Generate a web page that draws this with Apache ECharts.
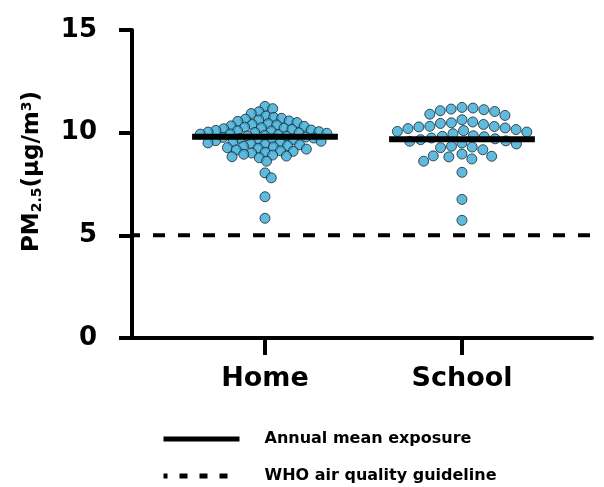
<!DOCTYPE html>
<html>
<head>
<meta charset="utf-8">
<title>PM2.5 exposure</title>
<style>
  body { margin: 0; padding: 0; background: #fff; }
  #container { width: 604px; height: 487px; }
</style>
</head>
<body>
<div id="container"></div>
<script src="https://cdn.jsdelivr.net/npm/echarts@6/dist/echarts.min.js"></script>
<script>
// categories on the x axis (Home = 1, School = 2)
var categories = ['Home', 'School'];
var categoryPos = [1, 2];

// PM2.5 values (ug/m3)
var homeValues = [
  11.28, 11.17, 11.02, 10.93, 10.81,
  10.74, 10.7, 10.66, 10.62, 10.57, 10.55, 10.49, 10.44,
  10.4, 10.38, 10.33, 10.31, 10.27, 10.24, 10.22, 10.19, 10.17, 10.13, 10.11,
  10.09, 10.08, 10.05, 10.03, 10.01, 9.99,
  9.97, 9.94, 9.93, 9.9, 9.87, 9.84, 9.83, 9.79, 9.77, 9.74, 9.72, 9.69,
  9.66, 9.64, 9.61, 9.58,
  9.55, 9.52, 9.5, 9.47, 9.44, 9.41, 9.37, 9.34, 9.31, 9.27, 9.24, 9.2,
  9.16, 9.12, 9.09, 9.05, 9.01, 8.95, 8.91, 8.86, 8.83, 8.78,
  8.61, 8.04, 7.8, 6.88, 5.83
];
var schoolValues = [
  11.23, 11.2, 11.15, 11.12, 11.07, 11.03, 10.9, 10.84,
  10.63, 10.52, 10.48, 10.45, 10.4, 10.31, 10.3, 10.28, 10.23, 10.2,
  10.15, 10.1, 10.06, 10.03, 9.95, 9.85, 9.82, 9.8, 9.74, 9.7,
  9.66, 9.6, 9.58, 9.5, 9.45, 9.34, 9.3, 9.27, 9.17, 8.96, 8.87, 8.85,
  8.82, 8.72, 8.61,
  8.07, 6.75, 5.73
];

// annual means (horizontal bars) and WHO guideline
var meanValues = [9.8, 9.68];
var guideline = 5;

var FONT = 'DejaVu Sans';
var dotColor = '#38a9d4';

var dom = document.getElementById('container');
var myChart = echarts.init(dom);

var xMin = 0.325, xMax = 2.66;

// one legend block per row, so the rows sit where the picture has them
function legendRow(name, top, lineType) {
  return {
    left: 156,
    top: top,
    itemWidth: 76,
    itemHeight: 14,
    textStyle: { fontFamily: FONT, fontWeight: 'bold', fontSize: 16, color: '#000', padding: [0, 0, 0, 20] },
    data: [{
      name: name,
      itemStyle: { opacity: 0 },
      lineStyle: { width: 5, color: '#000', type: lineType, opacity: 1 }
    }]
  };
}

var option = {
  animation: false,
  backgroundColor: '#fff',
  grid: { left: 132, right: 12, top: 30, bottom: 149 },
  legend: [
    legendRow('Annual mean exposure', 426, 'solid'),
    legendRow('WHO air quality guideline', 463, [8, 12])
  ],
  xAxis: {
    type: 'value',
    min: xMin,
    max: xMax,
    splitLine: { show: false },
    axisLine: { show: true, onZero: false, lineStyle: { color: '#000', width: 4 } },
    axisTick: { show: true, customValues: categoryPos, length: 17, lineStyle: { color: '#000', width: 4 } },
    axisLabel: {
      customValues: categoryPos,
      margin: 27,
      fontFamily: FONT, fontWeight: 'bold', fontSize: 27, color: '#000',
      formatter: function (v) { return categories[Math.round(v) - 1] || ''; }
    }
  },
  yAxis: {
    type: 'value',
    min: 0,
    max: 15,
    interval: 5,
    splitLine: { show: false },
    axisLine: { show: true, onZero: false, lineStyle: { color: '#000', width: 4 } },
    axisTick: { show: true, length: 13, lineStyle: { color: '#000', width: 4 } },
    axisLabel: { margin: 35, fontFamily: FONT, fontWeight: 'bold', fontSize: 26, color: '#000' },
    name: '{b|PM}{s|2.5}{b|(µg/m}{p|3}{b|)}',
    nameLocation: 'middle',
    nameGap: 88,
    nameTextStyle: {
      padding: [0, 0, 0, 25],
      rich: {
        b: { fontFamily: FONT, fontWeight: 'bold', fontSize: 23, color: '#000' },
        s: { fontFamily: FONT, fontWeight: 'bold', fontSize: 14, color: '#000', verticalAlign: 'bottom', padding: [10, 0, 0, 0] },
        p: { fontFamily: FONT, fontWeight: 'bold', fontSize: 14, color: '#000', verticalAlign: 'top', padding: [0, 0, 10, 0] }
      }
    }
  },
  series: []
};

myChart.setOption(option);

// simple beeswarm: put each dot as close to the category centre as it can go without overlap
function swarmOffsets(values, kx, ky, d) {
  var order = values.map(function (v, i) { return i; })
    .sort(function (a, b) { return values[b] - values[a]; });
  var placed = [];
  var out = new Array(values.length);
  order.forEach(function (i) {
    var y = values[i] * ky;
    var cands = [0];
    placed.forEach(function (p) {
      var dy = Math.abs(p.y - y);
      if (dy < d) {
        var dx = Math.sqrt(d * d - dy * dy);
        cands.push(p.x + dx, p.x - dx);
      }
    });
    cands.sort(function (a, b) { return Math.abs(a) - Math.abs(b); });
    var x = 0;
    for (var c = 0; c < cands.length; c++) {
      var cx = cands[c];
      var ok = placed.every(function (p) {
        return (p.x - cx) * (p.x - cx) + (p.y - y) * (p.y - y) >= d * d - 0.01;
      });
      if (ok) { x = cx; break; }
    }
    placed.push({ x: x, y: y });
    out[i] = x / kx;
  });
  return out;
}

// pixel size of one unit on each axis
var p0 = myChart.convertToPixel({ gridIndex: 0 }, [1, 0]);
var p1 = myChart.convertToPixel({ gridIndex: 0 }, [2, 1]);
var kx = p1[0] - p0[0];
var ky = p0[1] - p1[1];

function dots(values, pos, d) {
  var offs = swarmOffsets(values, kx, ky, d);
  return values.map(function (v, i) { return [pos + offs[i], v]; });
}

var dotStyle = { color: dotColor, borderColor: '#17252c', borderWidth: 1 };
var halfBar = 0.37;

myChart.setOption({
  series: [
    {
      name: 'WHO air quality guideline',
      type: 'line',
      clip: false,
      symbol: 'none',
      z: 1,
      itemStyle: { color: '#000' },
      lineStyle: { color: '#000', width: 4, type: [12, 13], dashOffset: 4 },
      data: [[xMin, guideline], [xMax + 0.07, guideline]]
    },
    {
      name: 'homeDots',
      type: 'scatter',
      symbolSize: 10,
      itemStyle: dotStyle,
      z: 3,
      data: dots(homeValues, categoryPos[0], 8)
    },
    {
      name: 'schoolDots',
      type: 'scatter',
      symbolSize: 10,
      itemStyle: dotStyle,
      z: 3,
      data: dots(schoolValues, categoryPos[1], 11)
    },
    {
      name: 'Annual mean exposure',
      type: 'line',
      symbol: 'none',
      z: 5,
      itemStyle: { color: '#000' },
      lineStyle: { color: '#000', width: 6 },
      data: [[categoryPos[0] - halfBar, meanValues[0]], [categoryPos[0] + halfBar, meanValues[0]]]
    },
    {
      name: 'Annual mean exposure',
      type: 'line',
      symbol: 'none',
      z: 5,
      itemStyle: { color: '#000' },
      lineStyle: { color: '#000', width: 6 },
      data: [[categoryPos[1] - halfBar, meanValues[1]], [categoryPos[1] + halfBar, meanValues[1]]]
    }
  ]
});
</script>
</body>
</html>
